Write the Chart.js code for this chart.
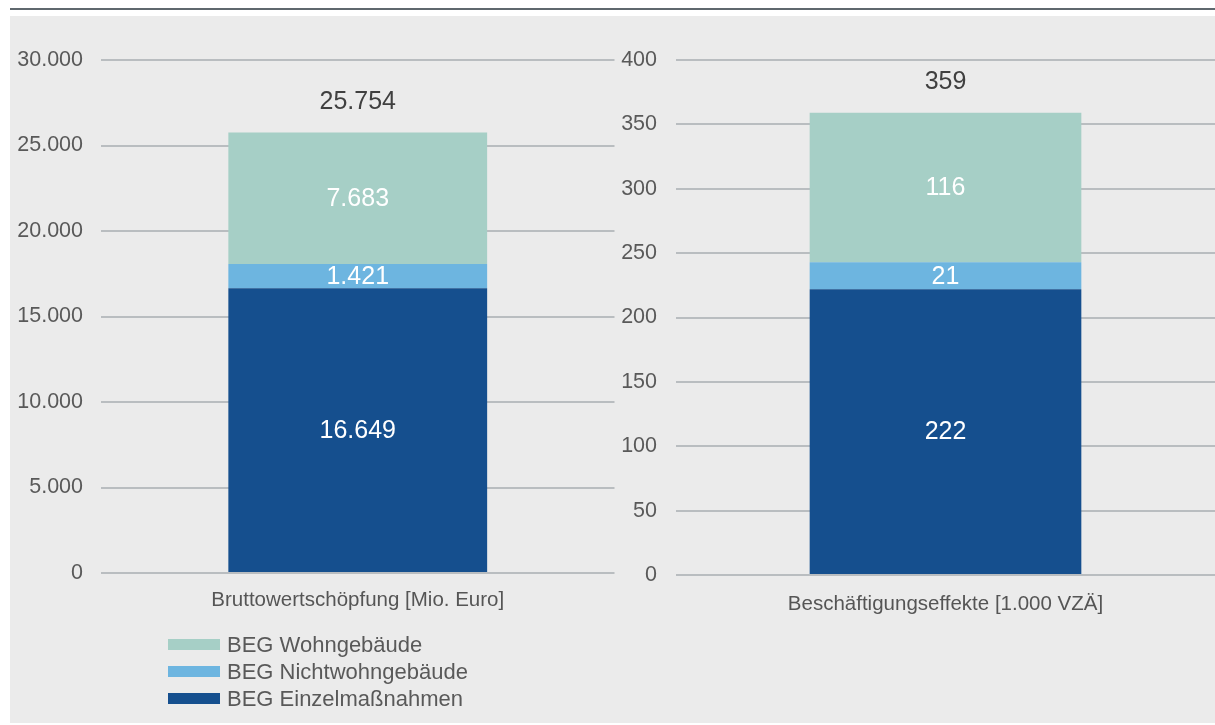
<!DOCTYPE html>
<html lang="de">
<head>
<meta charset="utf-8">
<title>BEG Wertschöpfung und Beschäftigung</title>
<script src="https://cdn.jsdelivr.net/npm/chart.js@4.4.0/dist/chart.umd.min.js"></script>
<style>
    html, body { margin: 0; padding: 0; background: #ffffff; }
    #page { position: relative; width: 1215px; height: 725px; overflow: hidden; font-family: "Liberation Sans", Arial, sans-serif; }
    #topRule { position: absolute; left: 10px; top: 8px; width: 1205px; height: 2px; background: #5f686e; }
    #panel { position: absolute; left: 10px; top: 16px; width: 1205px; height: 707px; background: #ebebeb; }
    canvas { position: absolute; top: 0; }
    #valueChart { left: 0; }
    #jobsChart { left: 620px; }
    #legend { position: absolute; left: 168px; top: 631px; }
    .legend-item { display: flex; align-items: center; height: 27px; font-size: 22px; color: #595959; white-space: nowrap; }
    .legend-box { width: 52px; height: 11px; margin-right: 7px; }
</style>
</head>
<body>
<div id="page">
    <div id="topRule"></div>
    <div id="panel"></div>
    <canvas id="valueChart" width="620" height="640"></canvas>
    <canvas id="jobsChart" width="595" height="640"></canvas>
    <div id="legend"></div>
</div>
<script>
const categories = ['Bruttowertschöpfung [Mio. Euro]', 'Beschäftigungseffekte [1.000 VZÄ]'];
const seriesNames = ['BEG Einzelmaßnahmen', 'BEG Nichtwohngebäude', 'BEG Wohngebäude'];
const seriesColors = ['#154f8e', '#6db5e0', '#a6cfc6'];
const einzelmassnahmen = [16649, 222];
const nichtwohngebaeude = [1421, 21];
const wohngebaeude = [7683, 116];
const totals = [25754, 359];
const yMaxValues = [30000, 400];
const yStepValues = [5000, 50];

const FONT = '"Liberation Sans", Arial, sans-serif';

function formatDe(value) {
    return Number(value).toLocaleString('de-DE');
}

// draws the segment values and the total above the bar
const valueLabels = {
    id: 'valueLabels',
    afterDatasetsDraw(chart, args, opts) {
        const ctx = chart.ctx;
        let barTop = null;
        let barX = null;
        ctx.save();
        ctx.font = '25px ' + FONT;
        ctx.textAlign = 'center';
        ctx.textBaseline = 'middle';
        ctx.fillStyle = '#ffffff';
        chart.data.datasets.forEach((ds, i) => {
            const bar = chart.getDatasetMeta(i).data[0];
            ctx.fillText(formatDe(ds.data[0]), bar.x, (bar.y + bar.base) / 2 + 1);
            barTop = bar.y;
            barX = bar.x;
        });
        ctx.fillStyle = '#404040';
        ctx.fillText(formatDe(opts.total), barX, barTop - 31);
        ctx.restore();
    }
};

function createBarChart(canvasId, index, layout) {
    const canvas = document.getElementById(canvasId);
    if (!canvas) {
        console.error('Canvas not found: ' + canvasId);
        return null;
    }
    const seriesValues = [einzelmassnahmen, nichtwohngebaeude, wohngebaeude];

    return new Chart(canvas.getContext('2d'), {
        type: 'bar',
        data: {
            labels: [categories[index]],
            datasets: seriesValues.map((values, i) => ({
                label: seriesNames[i],
                data: [values[index]],
                backgroundColor: seriesColors[i],
                borderWidth: 0,
                categoryPercentage: 1,
                barPercentage: 0.504
            }))
        },
        options: {
            responsive: false,
            devicePixelRatio: 1,
            animation: false,
            layout: {
                padding: { top: 60, right: layout.padRight, left: 0, bottom: 0 }
            },
            plugins: {
                legend: { display: false },
                tooltip: { enabled: false },
                valueLabels: { total: totals[index] }
            },
            scales: {
                x: {
                    stacked: true,
                    grid: { display: false, drawTicks: false },
                    border: { display: false },
                    ticks: {
                        color: '#555555',
                        padding: layout.xPad,
                        font: { family: FONT, size: 20.5 }
                    },
                    afterFit: scale => { scale.height = layout.xHeight; }
                },
                y: {
                    stacked: true,
                    min: 0,
                    max: yMaxValues[index],
                    grid: { color: '#b9bdc0', lineWidth: 2, drawTicks: false },
                    border: { display: false },
                    ticks: {
                        stepSize: yStepValues[index],
                        color: '#595959',
                        padding: layout.yPad,
                        font: { family: FONT, size: 21.5 },
                        callback: value => formatDe(value)
                    },
                    afterFit: scale => { scale.width = layout.yWidth; }
                }
            }
        },
        plugins: [valueLabels]
    });
}

function buildLegend() {
    const legend = document.getElementById('legend');
    // top to bottom: Wohngebäude, Nichtwohngebäude, Einzelmaßnahmen
    for (let i = seriesNames.length - 1; i >= 0; i--) {
        const item = document.createElement('div');
        item.className = 'legend-item';
        const box = document.createElement('span');
        box.className = 'legend-box';
        box.style.background = seriesColors[i];
        const text = document.createElement('span');
        text.textContent = seriesNames[i];
        item.appendChild(box);
        item.appendChild(text);
        legend.appendChild(item);
    }
}

createBarChart('valueChart', 0, { yWidth: 101, yPad: 18, xHeight: 67, xPad: 15, padRight: 5.5 });
createBarChart('jobsChart', 1, { yWidth: 56, yPad: 19, xHeight: 65, xPad: 17, padRight: 0 });
buildLegend();
</script>
</body>
</html>
